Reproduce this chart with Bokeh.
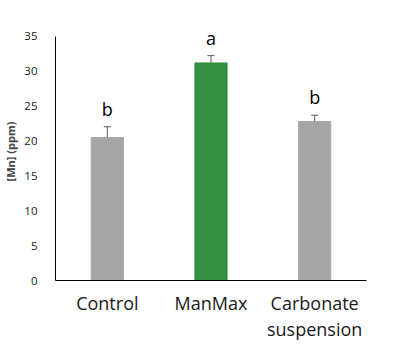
from bokeh.plotting import figure
from bokeh.models import ColumnDataSource, Range1d, Whisker, FactorRange, FixedTicker, LabelSet
from bokeh.embed import file_html
from bokeh.resources import INLINE
from bokeh.core.properties import value

categories = ["Control", "ManMax", "Carbonate\nsuspension"]
means = [20.5, 31.2, 22.8]
errors = [1.55, 1.05, 0.9]
letters = ["b", "a", "b"]
colors = ["#A5A5A5", "#338F41", "#A5A5A5"]
y_ticks = [0, 5, 10, 15, 20, 25, 30, 35]

src = ColumnDataSource(dict(
    cat=categories, mean=means,
    upper=[m + e for m, e in zip(means, errors)],
    lower=[m - e for m, e in zip(means, errors)],
    letter=letters, color=colors,
))

p = figure(x_range=FactorRange(*categories), y_range=Range1d(0, 37),
           frame_width=311, frame_height=258, output_backend="svg", toolbar_location=None,
           min_border_left=48, min_border_top=22, min_border_right=19, min_border_bottom=56)
p.outline_line_color = None
p.grid.grid_line_color = None
p.x_range.range_padding = 0

p.vbar(x="cat", top="mean", width=0.31, color="color", source=src)
w = Whisker(base="cat", upper="upper", lower="lower", source=src,
            line_color="#595959", line_width=1)
w.upper_head.size = 7
w.lower_head.size = 7
w.upper_head.line_color = "#595959"
w.lower_head.line_color = "#595959"
p.add_layout(w)

labels = LabelSet(x="cat", y="upper", text="letter", source=src, text_align="center",
                  text_baseline="alphabetic", y_offset=11, text_font=value("Open Sans"),
                  text_font_size="18px", text_color="black")
p.add_layout(labels)

p.yaxis.ticker = FixedTicker(ticks=y_ticks)
p.yaxis.bounds = (0, 35)
p.yaxis.axis_label = "[Mn] (ppm)"
p.yaxis.axis_label_text_font = "Open Sans"
p.yaxis.axis_label_text_font_style = "bold"
p.yaxis.axis_label_text_font_size = "11px"
p.yaxis.axis_label_standoff = 3
p.yaxis.major_label_text_font = "Open Sans"
p.yaxis.major_label_text_font_size = "11.5px"
p.yaxis.major_label_text_color = "#222222"
p.yaxis.major_tick_line_color = None
p.yaxis.minor_tick_line_color = None
p.yaxis.major_label_standoff = 12
p.yaxis.axis_line_color = "black"

p.xaxis.major_tick_line_color = None
p.xaxis.major_label_text_font = "Open Sans"
p.xaxis.major_label_text_font_size = "18px"
p.xaxis.major_label_text_color = "#1a1a1a"
p.xaxis.major_label_standoff = 4
p.xaxis.axis_line_color = "black"
p.xaxis.major_label_text_line_height = 1.1

open("out.html", "w").write(file_html(p, INLINE))
